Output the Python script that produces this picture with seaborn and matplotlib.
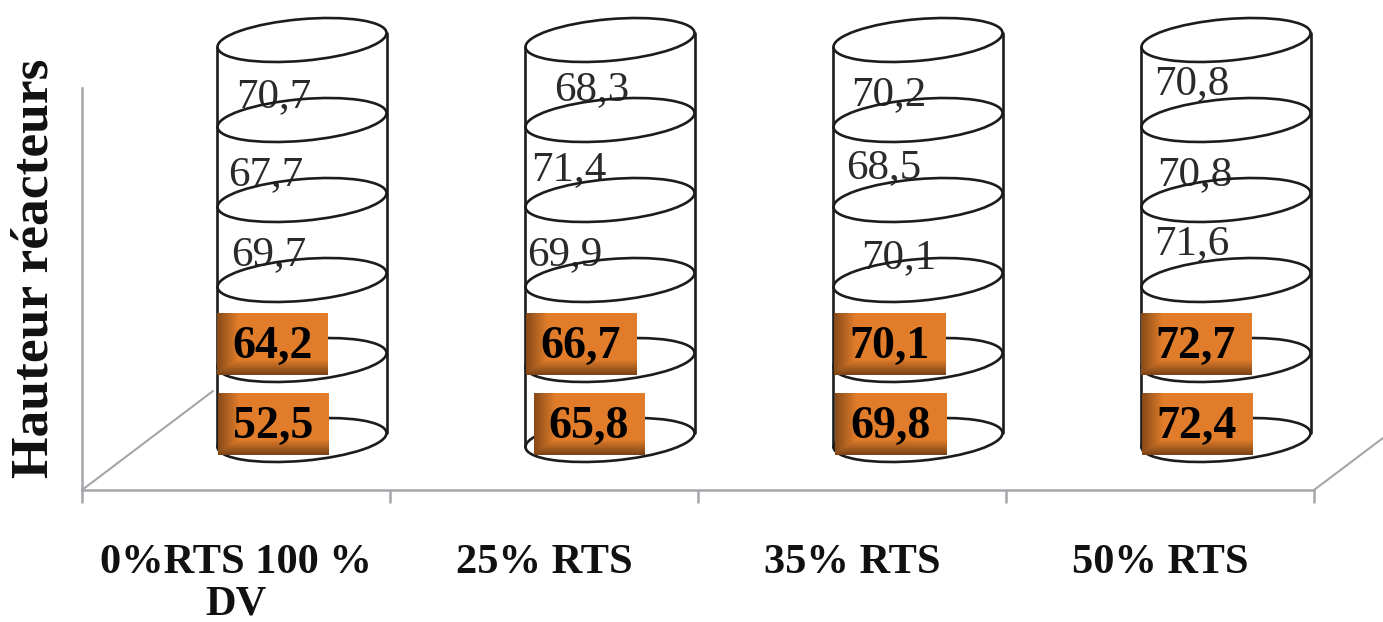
import numpy as np
import pandas as pd
import matplotlib
matplotlib.use('Agg')
import matplotlib.pyplot as plt
import seaborn as sns
from matplotlib.patches import Ellipse
from matplotlib.transforms import Affine2D, ScaledTranslation

# Category labels and values per level (level 1 = bottom of the cylinder)
conditions = ['0%RTS 100 %\nDV', '25% RTS', '35% RTS', '50% RTS']
niveau_1 = [52.5, 65.8, 69.8, 72.4]
niveau_2 = [64.2, 66.7, 70.1, 72.7]
niveau_3 = [69.7, 69.9, 70.1, 71.6]
niveau_4 = [67.7, 71.4, 68.5, 70.8]
niveau_5 = [70.7, 68.3, 70.2, 70.8]
# every level is drawn with the same height in the chart
hauteur_niveau = [1, 1, 1, 1, 1]

niveaux = [niveau_1, niveau_2, niveau_3, niveau_4, niveau_5]

# label offsets from the middle of each segment, in pixels (moved by hand in the original)
label_dx = [[-28.5, -21, -28, -29], [-29.5, -29, -29, -30], [-33.5, -45, -19, -34],
            [-36.5, -41, -34, -31], [-28.5, -18, -29, -34]]
label_dy = [[-27, -27, -27, -27], [-27, -27, -27, -27], [-15, -15, -18, -4],
            [-15, -10, -8, -15], [-17, -10, -15, -4]]

sns.set_style('white')
plt.rcParams['font.family'] = ['Liberation Serif', 'DejaVu Serif']

rows = []
for k, h in enumerate(hauteur_niveau):
    for c in conditions:
        rows.append({'condition': c, 'niveau': k, 'hauteur': h})
df = pd.DataFrame(rows)

W, H = 1383, 622
fig = plt.figure(figsize=(W / 100, H / 100), dpi=100, facecolor='white')
ax = fig.add_axes([82 / W, (H - 490) / H, 1232 / W, 490 / H])

GREY = '#a4a6aa'
LINE = '#1c1c1c'

sns.barplot(data=df, x='condition', y='hauteur', order=conditions, estimator='sum',
            errorbar=None, color='white', width=0.55, linewidth=0, ax=ax, zorder=2)

ax.set_xlim(-0.5, 3.5)
ax.set_ylim(-0.625, 5.5)
px_x = 1232 / 4
px_y = 80

# cylinders sit further back than the tick labels (fake 3D depth)
depth = 66 / px_x
bars = ax.patches[:len(conditions)]
for b in bars:
    b.set_x(b.get_x() + depth)

tilt_px = 7 / px_y
for b in bars:
    left, right = b.get_x(), b.get_x() + b.get_width()
    top = b.get_height()
    cx = left + b.get_width() / 2
    ax.plot([left, left], [0 - tilt_px, top - tilt_px], color=LINE, lw=1.9, zorder=3)
    ax.plot([right, right], [0 + tilt_px, top + tilt_px], color=LINE, lw=1.9, zorder=3)
    level = 0
    for h in [0] + hauteur_niveau:
        level += h
        tr = fig.dpi_scale_trans + ScaledTranslation(cx, level, ax.transData)
        ax.add_patch(Ellipse((0, 0), 1.696, 0.416, angle=5, fill=False, edgecolor=LINE,
                             lw=1.9, transform=tr, zorder=3, clip_on=False))

# orange label box with darker left and bottom edges
bw, bh = 111, 62
shade = np.minimum.outer(np.r_[np.ones(bh - 16), np.linspace(1, 0.55, 16)],
                         np.r_[np.linspace(0.6, 1, 22), np.ones(bw - 22)])
box = np.dstack([shade * c for c in (0.885, 0.49, 0.165)])

for k, vals in enumerate(niveaux):
    mid = sum(hauteur_niveau[:k]) + hauteur_niveau[k] / 2
    for i, v in enumerate(vals):
        x = i + depth + label_dx[k][i] / px_x
        y = mid + label_dy[k][i] / px_y
        txt = f'{v:.1f}'.replace('.', ',')
        if k < 2:
            by = y + 3 / px_y
            ax.imshow(box, extent=[x - bw / 2 / px_x, x + bw / 2 / px_x,
                                   by - bh / 2 / px_y, by + bh / 2 / px_y],
                      aspect='auto', zorder=4, interpolation='bilinear')
            ax.text(x, y, txt, ha='center', va='center', fontsize=33, fontweight='bold',
                    color='black', zorder=5)
        else:
            ax.text(x, y, txt, ha='center', va='center', fontsize=31, color='#2a2a2a', zorder=2.5)

ax.set_xlim(-0.5, 3.5)
ax.set_ylim(-0.625, 5.5)

# axes
sns.despine(ax=ax, top=True, right=True)
for s in ['left', 'bottom']:
    ax.spines[s].set_color(GREY)
    ax.spines[s].set_linewidth(1.8)
ax.spines['left'].set_bounds(-0.625, 4.4)
ax.set_yticks([])
ax.set_xticks(np.arange(-0.5, 4, 1), minor=True)
ax.tick_params(axis='x', which='minor', length=9.5, width=1.8, color=GREY, bottom=True)
ax.tick_params(axis='x', which='major', length=0, pad=39)
ax.set_xticks(range(len(conditions)))
ax.set_xticklabels(conditions, fontsize=30.5, fontweight='bold', color='#111111', linespacing=1.12)
ax.set_xlabel('')
ax.set_ylabel('Hauteur réacteurs', fontsize=38.5, fontweight='bold', color='#111111', va='center')
ax.yaxis.set_label_coords((35 - 82) / 1232, (490 - 268) / 490)

# floor edges of the 3D box, in pixels
to_px = Affine2D().scale(1, -1).translate(0, H)
ax.plot([82, 213], [490, 391], color=GREY, lw=1.5, transform=to_px, clip_on=False, zorder=1)
ax.plot([1314, 1383], [490, 438], color=GREY, lw=1.5, transform=to_px, clip_on=False, zorder=1)

fig.savefig('out.png', dpi=100)
